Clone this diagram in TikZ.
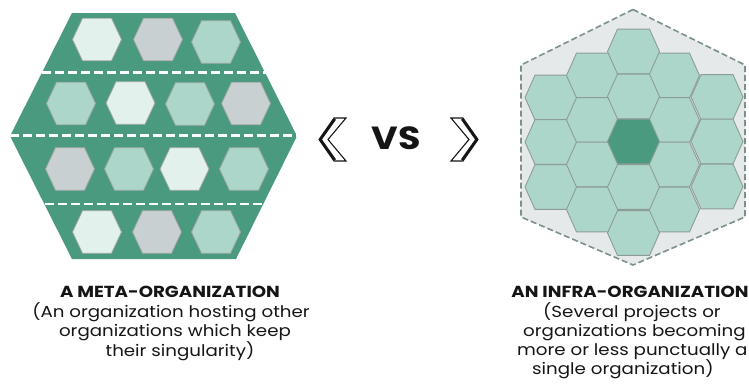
\documentclass[tikz,border=0pt]{standalone}
\usepackage{fontspec}
\setmainfont[FakeStretch=1.14]{Poppins}
\definecolor{biggreen}{HTML}{4A9A80}
\definecolor{hlight}{HTML}{E3F1EC}
\definecolor{hgray}{HTML}{C9D0D2}
\definecolor{hmint}{HTML}{ACD6C9}
\definecolor{hline}{HTML}{9CA5A2}
\definecolor{outerfill}{HTML}{E6E9EA}
\definecolor{outerline}{HTML}{7C918C}
\definecolor{rline}{HTML}{8E9C97}
\definecolor{txt}{HTML}{151515}
% centre x, centre y, half width, half top edge, half height, style
\newcommand\hexat[6]{\filldraw[#6] (#1,#2) +(#3,0) -- +(#4,#5) -- +(-#4,#5) -- +(-#3,0) -- +(-#4,-#5) -- +(#4,-#5) -- cycle;}
\newcommand\lhx[3]{\hexat{#1}{#2}{24.5}{14.5}{21.3}{lhex,fill=#3}}
\newcommand\rhx[3]{\hexat{#1}{#2}{26}{16}{22.4}{rhex,fill=#3}}
\newcommand\chevat[2]{%
  \begin{scope}[shift={(#1,139.5)},xscale=#2]
    \draw[txt,line width=1.1pt,line join=miter] (15,-21.5) -- (0,0) -- (15,21.5) -- (27,21.5) -- (9,0) -- (27,-21.5) -- cycle;
    \draw[txt,line width=2.4pt] (16,-20.5) -- (1.5,0) -- (16,20.5);
  \end{scope}}
\begin{document}
\begin{tikzpicture}[x=1pt,y=-1pt,
  lhex/.style={draw=hline,line width=0.8pt},
  rhex/.style={draw=rline,line width=0.9pt},
  sep/.style={white,line width=2.8pt,dash pattern=on 9pt off 4pt},
  ttl/.style={txt,font=\bfseries\fontsize{16}{16}\selectfont,inner sep=0pt},
  body/.style={txt,font=\fontsize{16}{16}\selectfont,inner sep=0pt}]
\useasboundingbox (0,0) rectangle (749,389);
\clip (0,0) rectangle (749,389);
% ---- left: meta-organization
\fill[biggreen] (72,13) -- (235,13) -- (297,136) -- (236,259) -- (72,259) -- (10,136) -- cycle;
\draw[sep] (42,72.5) -- (266,72.5);
\draw[sep] (10,135.5) -- (297,135.5);
\draw[sep] (45,204) -- (264,204);
\lhx{97}{39.5}{hlight}
\lhx{158}{39.5}{hgray}
\lhx{216}{42}{hmint}
\lhx{71}{103.5}{hmint}
\lhx{130.5}{103}{hlight}
\lhx{190}{104}{hmint}
\lhx{246}{103.5}{hgray}
\lhx{70}{169}{hgray}
\lhx{129}{169}{hmint}
\lhx{184.5}{169}{hlight}
\lhx{244}{169}{hmint}
\lhx{97}{232}{hlight}
\lhx{157}{232}{hgray}
\lhx{216}{232}{hmint}
% ---- right: infra-organization
\filldraw[fill=outerfill,draw=outerline,line width=1.6pt,dash pattern=on 6pt off 3pt]
  (633,9.5) -- (745,65) -- (745,217) -- (633,265) -- (521,217) -- (521,65) -- cycle;
\foreach \y in {97.5,142,187} {\rhx{551}{\y}{hmint}}
\foreach \y in {97,141.5,186.5} {\rhx{717}{\y}{hmint}}
\foreach \y in {75.5,120,164.5,209.5} {\rhx{592.5}{\y}{hmint}}
\foreach \y in {75.5,120,164.5,209.5} {\rhx{673.5}{\y}{hmint}}
\foreach \y in {51.5,96.5,187,233} {\rhx{633.5}{\y}{hmint}}
\rhx{633.5}{141.5}{biggreen}
% ---- vs
\chevat{319}{1}
\chevat{478}{-1}
\node[txt,font=\bfseries\fontsize{32}{32}\selectfont,inner sep=0pt] (vs) at (396,138) {VS};
% ---- texts
\node[ttl,anchor=base] (t1) at (170,297.7) {A META-ORGANIZATION};
\node[body,anchor=base] (l1) at (171,317) {(An organization hosting other};
\node[body,anchor=base] (l2) at (175,336.5) {organizations which keep};
\node[body,anchor=base] (l3) at (180,356) {their singularity)};
\node[ttl,anchor=base] (t2) at (630,297.7) {AN INFRA-ORGANIZATION};
\node[body,anchor=base west] (r1) at (543,317) {(Several projects or};
\node[body,anchor=base west] (r2) at (523,336.5) {organizations becoming};
\node[body,anchor=base west] (r3) at (517,355.5) {more or less punctually a};
\node[body,anchor=base west] (r4) at (532,374.5) {single organization)};
\end{tikzpicture}
\end{document}
